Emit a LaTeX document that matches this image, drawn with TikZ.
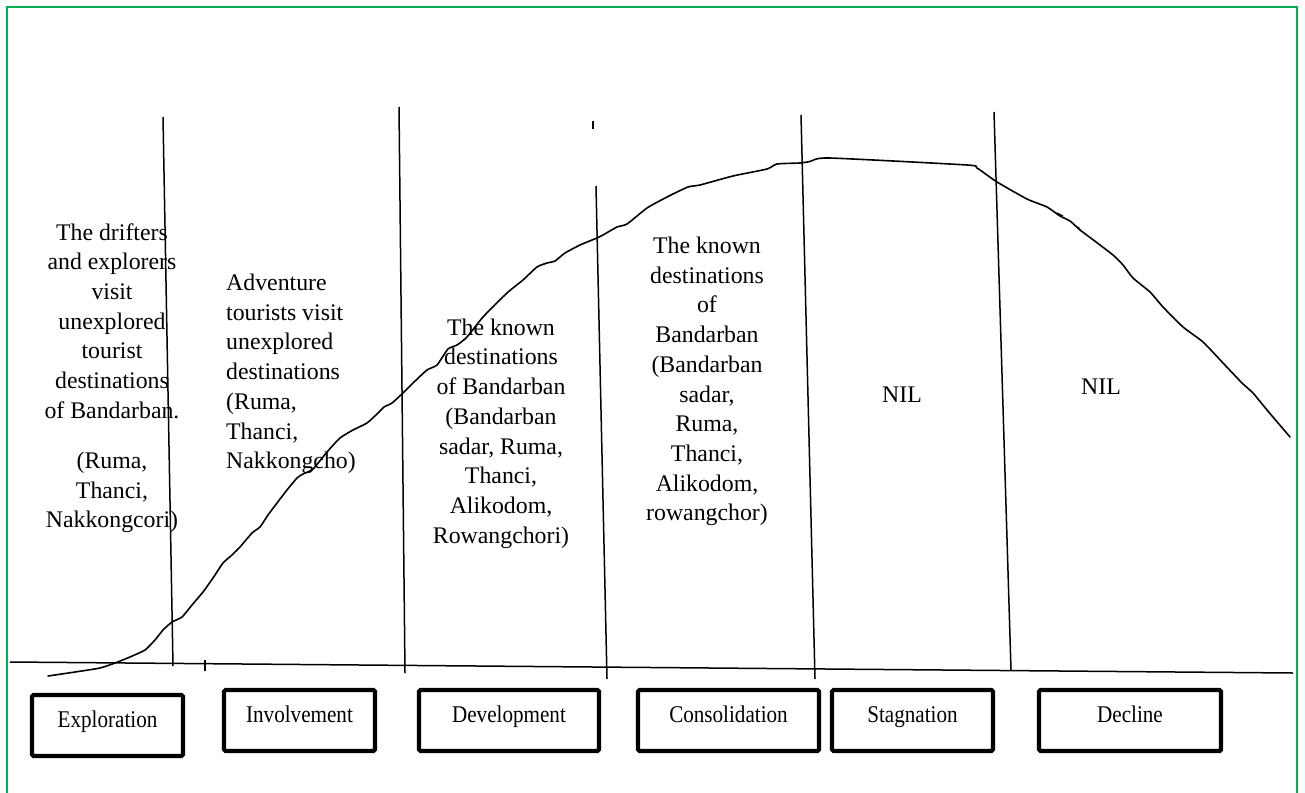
\documentclass[tikz,border=0pt]{standalone}
\usepackage{fontspec}
\setmainfont{Liberation Serif}
\newfontfamily\boxfont[FakeStretch=0.88]{Liberation Serif}
\definecolor{framegreen}{RGB}{0,176,80}
\begin{document}
\begin{tikzpicture}[x=1pt,y=-1pt,
  frame/.style={draw=framegreen,line width=2pt},
  divider/.style={draw=black,line width=1.5pt},
  axisline/.style={draw=black,line width=1.5pt},
  lifecurve/.style={draw=black,line width=1.6pt,line join=round,line cap=round},
  stagebox/.style={draw=black,line width=4.2pt,rounded corners=1.5pt,inner sep=0pt,
    text height=16pt,text depth=12pt,
    font=\boxfont\fontsize{24}{28}\selectfont},
  phasetext/.style={inner sep=0pt,font=\fontsize{23.8}{29.7}\selectfont},
]
\useasboundingbox (0,0) rectangle (1305,792);
\fill[white] (0,0) rectangle (1305,792);

% outer frame (its lower edge runs off the page)
\draw[frame] (7,800) -- (7,7) -- (1297,7) -- (1297,800);

% time axis
\coordinate (axL) at (10,662);
\coordinate (axR) at (1293,673);
\draw[axisline] (axL) -- (axR);
\draw[divider] (205,660) -- (205,671);

% stage dividers
\draw[divider] (163,117) -- (173,666);
\draw[divider] (399,107) -- (405,673);
\draw[divider] (593,121) -- (593,129);
\draw[divider] (596,186) -- (607,679);
\draw[divider] (801,115) -- (815,679);
\draw[divider] (994,112) -- (1011,670);

% tourism area life cycle curve
\draw[lifecurve] plot[smooth,tension=0.35] coordinates {
 (48,676) (75,672) (100,668) (115,663) (130,657) (145,650) (155,640) (163,630)
 (172,622) (182,617) (192,605) (203,592) (213,578) (223,563) (232,555) (240,547)
 (252,533) (260,527) (268,515) (277,503) (287,490) (297,478) (303,474) (313,469)
 (327,452) (340,438) (353,430) (367,423) (378,413) (384,407) (392,403) (403,393)
 (413,383) (427,370) (437,365) (448,349) (457,345) (467,337) (483,317) (507,293)
 (523,280) (537,267) (547,263) (555,261) (565,253) (580,245) (597,238) (603,235)
 (617,227) (627,224) (647,208) (667,197) (688,187) (700,185) (733,176) (767,169)
 (777,164) (800,163) (810,161.5) (829,158) (967,165) (977,168) (997,182)
 (1027,199) (1047,207) (1060,216) (1070,221) (1080,230) (1092,239) (1113,255)
 (1123,265) (1133,278) (1150,292) (1163,307) (1183,327) (1203,342) (1223,363)
 (1242,383) (1253,393) (1267,410) (1290,437)};
\draw[line width=1.2pt] (1057,213) -- (1063,216);
\draw[line width=1.2pt] (1078,227) -- (1081,231);

% descriptions of each stage
\node[phasetext,align=center] (explA) at (112,321)
  {The drifters\\and explorers\\visit\\unexplored\\tourist\\destinations\\of Bandarban.};
\node[phasetext,align=center] (explB) at (112,492.5)
  {(Ruma,\\Thanci,\\Nakkongcori)};
\node[phasetext,align=left,anchor=west] (invo) at (226,374)
  {Adventure\\tourists visit\\unexplored\\destinations\\(Ruma,\\Thanci,\\Nakkongcho)};
\node[phasetext,align=center] (deve) at (501,433.5)
  {The known\\destinations\\of Bandarban\\(Bandarban\\sadar, Ruma,\\Thanci,\\Alikodom,\\Rowangchori)};
\node[phasetext,align=center] (cons) at (707,381.5)
  {The known\\destinations\\of\\Bandarban\\(Bandarban\\sadar,\\Ruma,\\Thanci,\\Alikodom,\\rowangchor)};
\node[phasetext] (stag) at (902,395) {NIL};
\node[phasetext] (decl) at (1101,387) {NIL};

% stage names
\node[stagebox,minimum width=151,minimum height=61] (bExpl) at (107.5,725.5) {Exploration};
\node[stagebox,minimum width=151,minimum height=61] (bInvo) at (299.5,720.5) {Involvement};
\node[stagebox,minimum width=180,minimum height=61] (bDeve) at (509,720.5) {Development};
\node[stagebox,minimum width=181,minimum height=61] (bCons) at (728.5,720.5) {Consolidation};
\node[stagebox,minimum width=161,minimum height=61] (bStag) at (912.5,720.5) {Stagnation};
\node[stagebox,minimum width=182,minimum height=61] (bDecl) at (1130,720.5) {Decline};
\end{tikzpicture}
\end{document}
